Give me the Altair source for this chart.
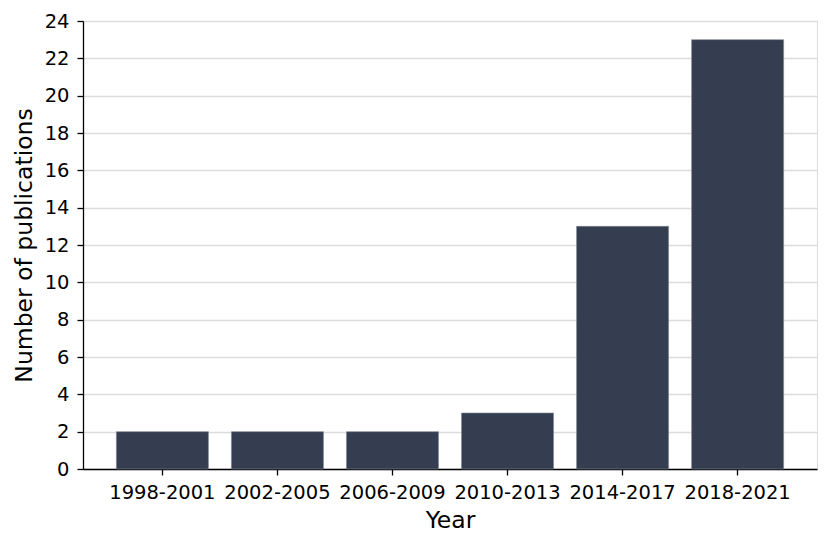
import altair as alt
import pandas as pd

periods = ["1998-2001", "2002-2005", "2006-2009", "2010-2013", "2014-2017", "2018-2021"]
counts = [2, 2, 2, 3, 13, 23]
y_ticks = list(range(0, 25, 2))

df = pd.DataFrame({"Year": periods, "count": counts})

FONT = "DejaVu Sans"

chart = (
    alt.Chart(df)
    .mark_bar(color="#343e50", stroke="#7f8693", strokeWidth=0.6)
    .encode(
        x=alt.X(
            "Year:N",
            sort=periods,
            scale=alt.Scale(paddingInner=0.2, paddingOuter=0.29),
            axis=alt.Axis(
                title="Year",
                labelAngle=0,
                labelFont=FONT,
                labelFontSize=19.5,
                labelColor="#000000",
                labelPadding=8,
                titleFont=FONT,
                titleFontSize=23.5,
                titleFontWeight="normal",
                titleColor="#000000",
                titleBaseline="alphabetic",
                titleY=58,
                domainColor="#000000",
                domainWidth=1.3,
                tickColor="#000000",
                tickSize=6,
                tickWidth=1.3,
                grid=False,
            ),
        ),
        y=alt.Y(
            "count:Q",
            scale=alt.Scale(domain=[0, 24], nice=False),
            axis=alt.Axis(
                title="Number of publications",
                values=y_ticks,
                labelFont=FONT,
                labelFontSize=19.5,
                labelColor="#000000",
                labelPadding=8,
                titleFont=FONT,
                titleFontSize=23.5,
                titleFontWeight="normal",
                titleColor="#000000",
                titleAngle=-90,
                titleAlign="center",
                titleBaseline="middle",
                titleX=-59,
                titleY=224,
                domainColor="#000000",
                domainWidth=1.3,
                tickColor="#000000",
                tickSize=6,
                tickWidth=1.3,
                grid=True,
                gridColor="#dcdcdc",
                gridWidth=1.3,
            ),
        ),
    )
    .properties(
        width=734,
        height=448,
        autosize=alt.AutoSizeParams(type="none"),
        padding={"left": 75, "top": 13, "right": 6, "bottom": 70},
    )
    .configure_view(strokeWidth=0, stroke="transparent")
    .configure(background="#ffffff")
)

chart.save("out.html", embed_options={"renderer": "svg", "actions": False})
